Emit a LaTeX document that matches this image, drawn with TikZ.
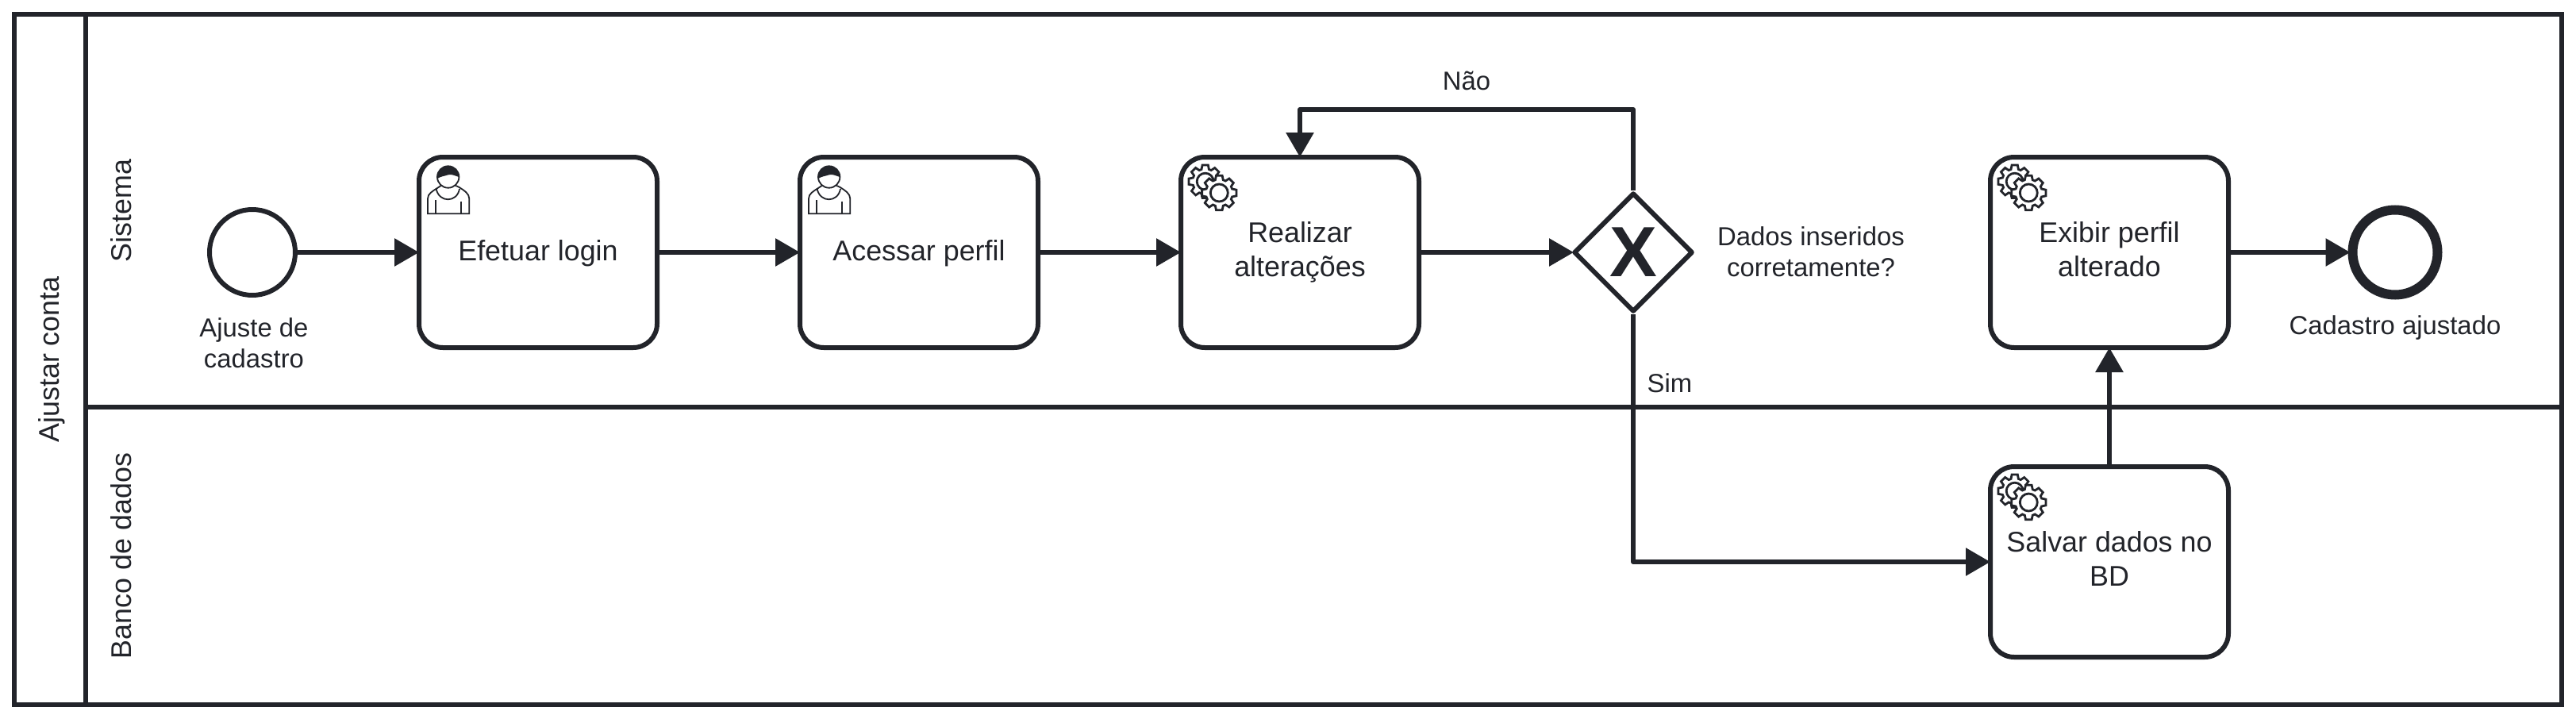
\documentclass[tikz,border=0pt]{standalone}
\usepackage{fontspec}
\setmainfont{Liberation Sans}
\usetikzlibrary{arrows.meta,shapes.geometric}

\definecolor{bpmndark}{HTML}{22242A}

\newcommand{\gearpath}[3]{%
	\draw[iconline,shift={#1}] (-17:#3) \foreach \a in {0,45,...,315} { -- (\a-17:#3) -- (\a-10:#2) -- (\a+10:#2) -- (\a+17:#3)} -- cycle;%
}

\tikzset{
	iconline/.style={bpmndark, line width=0.028cm, fill=white},
	laneline/.style={bpmndark, line width=0.06cm},
	conn/.style={bpmndark, line width=0.06cm, line join=round, shorten >=-0.03cm, -{Triangle[length=0.31cm,width=0.34cm]}},
	taskbox/.style={draw=bpmndark, fill=white, line width=0.06cm, rounded corners=0.3cm, minimum width=3cm, minimum height=2.4cm, inner sep=0pt, align=center, text=bpmndark, font=\fontsize{10.2}{12.2}\selectfont, execute at begin node={\rule{0pt}{8pt}}, execute at end node={\rule[-2.3pt]{0pt}{2.3pt}}},
	startevent/.style={circle, draw=bpmndark, fill=white, line width=0.06cm, minimum size=1.08cm, inner sep=0pt},
	endevent/.style={circle, draw=bpmndark, fill=white, line width=0.12cm, minimum size=1.07cm, inner sep=0pt},
	gatewaybox/.style={diamond, aspect=1, draw=bpmndark, fill=white, line width=0.06cm, line join=round, minimum width=1.5cm, minimum height=1.5cm, inner sep=0pt, outer sep=0.03cm, text=bpmndark, font=\fontsize{25.5}{25.5}\selectfont\bfseries},
	labeltext/.style={inner sep=0pt, align=center, text=bpmndark, font=\fontsize{9.35}{11}\selectfont},
	lanetext/.style={inner sep=0pt, rotate=90, anchor=base, text=bpmndark, font=\fontsize{10.2}{12.2}\selectfont},
	usericon/.pic={
		\draw[bpmndark, line width=0.018cm, fill=white] (.14,.743) -- (.14,.553) .. controls (.14,.49) and (.2,.46) .. (.26,.42) -- (.32,.38) -- (.473,.38) -- (.537,.41) .. controls (.6,.45) and (.663,.49) .. (.663,.553) -- (.663,.743) -- cycle;
		\draw[bpmndark, line width=0.018cm] (.247,.43) .. controls (.28,.607) and (.51,.607) .. (.54,.43);
		\draw[bpmndark, line width=0.018cm] (.237,.57) -- (.237,.743);
		\draw[bpmndark, line width=0.018cm] (.563,.587) -- (.563,.743);
		\draw[bpmndark, line width=0.018cm, fill=white] (.397,.28) circle (.137);
		\fill[bpmndark] (.26,.28) .. controls (.26,.204) and (.321,.143) .. (.397,.143) .. controls (.473,.143) and (.534,.204) .. (.534,.28) .. controls (.49,.27) and (.45,.24) .. (.397,.253) .. controls (.35,.27) and (.31,.27) .. (.26,.30) -- cycle;
	},
	gearicon/.pic={
		\gearpath{(.337,.337)}{.21}{.16}
		\draw[iconline] (.337,.337) circle (.105);
		\gearpath{(.513,.48)}{.22}{.17}
		\draw[iconline] (.513,.48) circle (.11);
	}
}

\begin{document}
\begin{tikzpicture}[y=-1cm]
	\useasboundingbox (0,0) rectangle (32.46,9.06);

	% Pool and lanes
	\node[draw=bpmndark, line width=0.06cm, minimum width=32.1cm, minimum height=8.7cm, inner sep=0pt] (pool) at (16.23,4.53) {};
	\draw[laneline] (1.08,0.18) -- (1.08,8.88);
	\draw[laneline] (1.08,5.13) -- (32.28,5.13);
	\node[lanetext] (poolname) at (0.74,4.53) {Ajustar conta};
	\node[lanetext] (sistema) at (1.65,2.655) {Sistema};
	\node[lanetext] (banco) at (1.65,7.005) {Banco de dados};

	% Flow elements
	\node[startevent] (inicio) at (3.18,3.18) {};
	\node[taskbox] (login) at (6.78,3.18) {Efetuar login};
	\node[taskbox] (perfil) at (11.58,3.18) {Acessar perfil};
	\node[taskbox] (alteracoes) at (16.38,3.18) {Realizar\\alterações};
	\node[gatewaybox] (dados) at (20.58,3.18) {X};
	\node[taskbox] (exibir) at (26.58,3.18) {Exibir perfil\\alterado};
	\node[endevent] (fim) at (30.18,3.18) {};
	\node[taskbox] (salvar) at (26.58,7.08) {Salvar dados no\\BD};

	% Task markers
	\pic at (login.north west) {usericon};
	\pic at (perfil.north west) {usericon};
	\pic at (alteracoes.north west) {gearicon};
	\pic at (exibir.north west) {gearicon};
	\pic at (salvar.north west) {gearicon};

	% Sequence flows
	\draw[conn] (inicio) -- (login);
	\draw[conn] (login) -- (perfil);
	\draw[conn] (perfil) -- (alteracoes);
	\draw[conn] (alteracoes) -- (dados);
	\draw[conn] (exibir) -- (fim);
	\draw[conn] (salvar) -- (exibir);
	\coordinate (volta) at (20.58,1.38);
	\draw[conn] (dados.north) -- (volta) -| (alteracoes.north);
	\draw[conn] (dados.south) |- (salvar.west);

	% Labels
	\node[labeltext] (ajuste) at (3.2,4.32) {Ajuste de\\cadastro};
	\node[labeltext, anchor=base] (nao) at (18.48,1.13) {Não};
	\node[labeltext] (pergunta) at (22.82,3.17) {Dados inseridos\\corretamente?};
	\node[labeltext, anchor=base] (sim) at (21.04,4.94) {Sim};
	\node[labeltext, anchor=base] (ajustado) at (30.18,4.21) {Cadastro ajustado};
\end{tikzpicture}
\end{document}
